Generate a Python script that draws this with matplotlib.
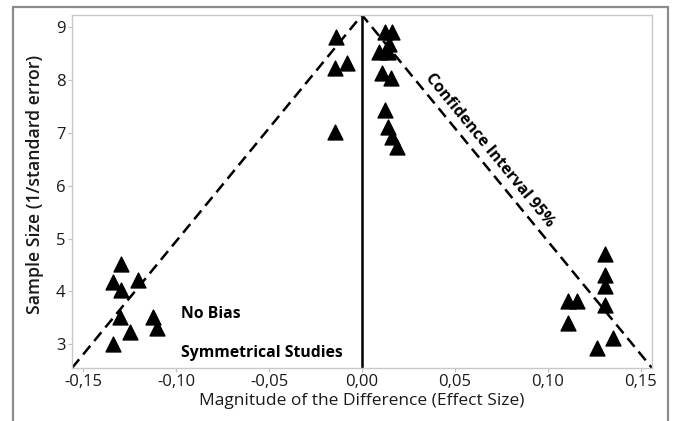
import numpy as np
import matplotlib
matplotlib.use('Agg')
from matplotlib import pyplot as plt
from matplotlib.patches import Rectangle

# effect size (x) and precision 1/SE (y)
effect = [-0.0140, -0.0145, -0.0082, -0.0145,
          0.0124, 0.0160, 0.0147, 0.0093, 0.0142, 0.0106, 0.0154,
          0.0124, 0.0142, 0.0160, 0.0190,
          -0.1297, -0.1337, -0.1203, -0.1297, -0.1300, -0.1122, -0.1104, -0.1247, -0.1337,
          0.1306, 0.1306, 0.1306, 0.1306, 0.1110, 0.1154, 0.1110, 0.1351, 0.1262]
precision = [8.82, 8.22, 8.32, 7.02,
             8.91, 8.91, 8.69, 8.53, 8.53, 8.13, 8.03,
             7.43, 7.12, 6.93, 6.74,
             4.52, 4.18, 4.21, 4.02, 3.52, 3.52, 3.31, 3.23, 3.01,
             4.71, 4.31, 4.11, 3.74, 3.81, 3.81, 3.41, 3.11, 2.92]

# funnel (95% CI) edges
funnel_x = [-0.156, 0.0, 0.156]
funnel_y = [2.55, 9.23, 2.55]

xticks = [-0.15, -0.10, -0.05, 0.00, 0.05, 0.10, 0.15]
xtick_labels = ['-0,15', '-0,10', '-0,05', '0,00', '0,05', '0,10', '0,15']
yticks = [3, 4, 5, 6, 7, 8, 9]

plt.rcParams['font.family'] = ['Open Sans', 'DejaVu Sans']

fig = plt.figure(figsize=(6.73, 4.21), dpi=100)
ax = fig.add_axes([72/673, 53/421, 580/673, 353/421])

# outer frame around the whole graph
fig.patches.append(Rectangle((13/673, -0.05), 655/673, 1.05 - 7/421, transform=fig.transFigure,
                             fill=False, edgecolor='#8c8c8c', linewidth=1.6))

ax.plot([0, 0], [funnel_y[0], funnel_y[1]], color='black', linewidth=1.8)
ax.plot(funnel_x, funnel_y, color='black', linewidth=1.8, linestyle=(0, (4.5, 2.5)))
ax.scatter(effect, precision, marker='^', s=115, color='black', zorder=3)

ax.set_xlim(-0.156, 0.156)
ax.set_ylim(2.55, 9.23)
ax.set_xticks(xticks)
ax.set_xticklabels(xtick_labels)
ax.set_yticks(yticks)
ax.tick_params(labelsize=12, colors='#c0c0c0', labelcolor='#1a1a1a', length=3, pad=1.5)
for sp in ax.spines.values():
    sp.set_color('#c8c8c8')
    sp.set_linewidth(1)

ax.set_xlabel('Magnitude of the Difference (Effect Size)', fontsize=12.5, labelpad=2, color='#1a1a1a')
ax.set_ylabel('Sample Size (1/standard error)', fontsize=12.7, fontweight='semibold', color='#1a1a1a')
ax.yaxis.set_label_coords(-0.048, 0.52)

ax.text(0.0688, 6.66, 'Confidence Interval 95%', rotation=-50.6, rotation_mode='anchor',
        ha='center', va='center', fontsize=11.5, fontweight='bold')
ax.text(-0.0973, 3.57, 'No Bias', ha='left', va='center', fontsize=11.3, fontweight='bold')
ax.text(-0.0973, 2.83, 'Symmetrical Studies', ha='left', va='center', fontsize=11.3, fontweight='bold')

fig.savefig('out.png', dpi=100)
